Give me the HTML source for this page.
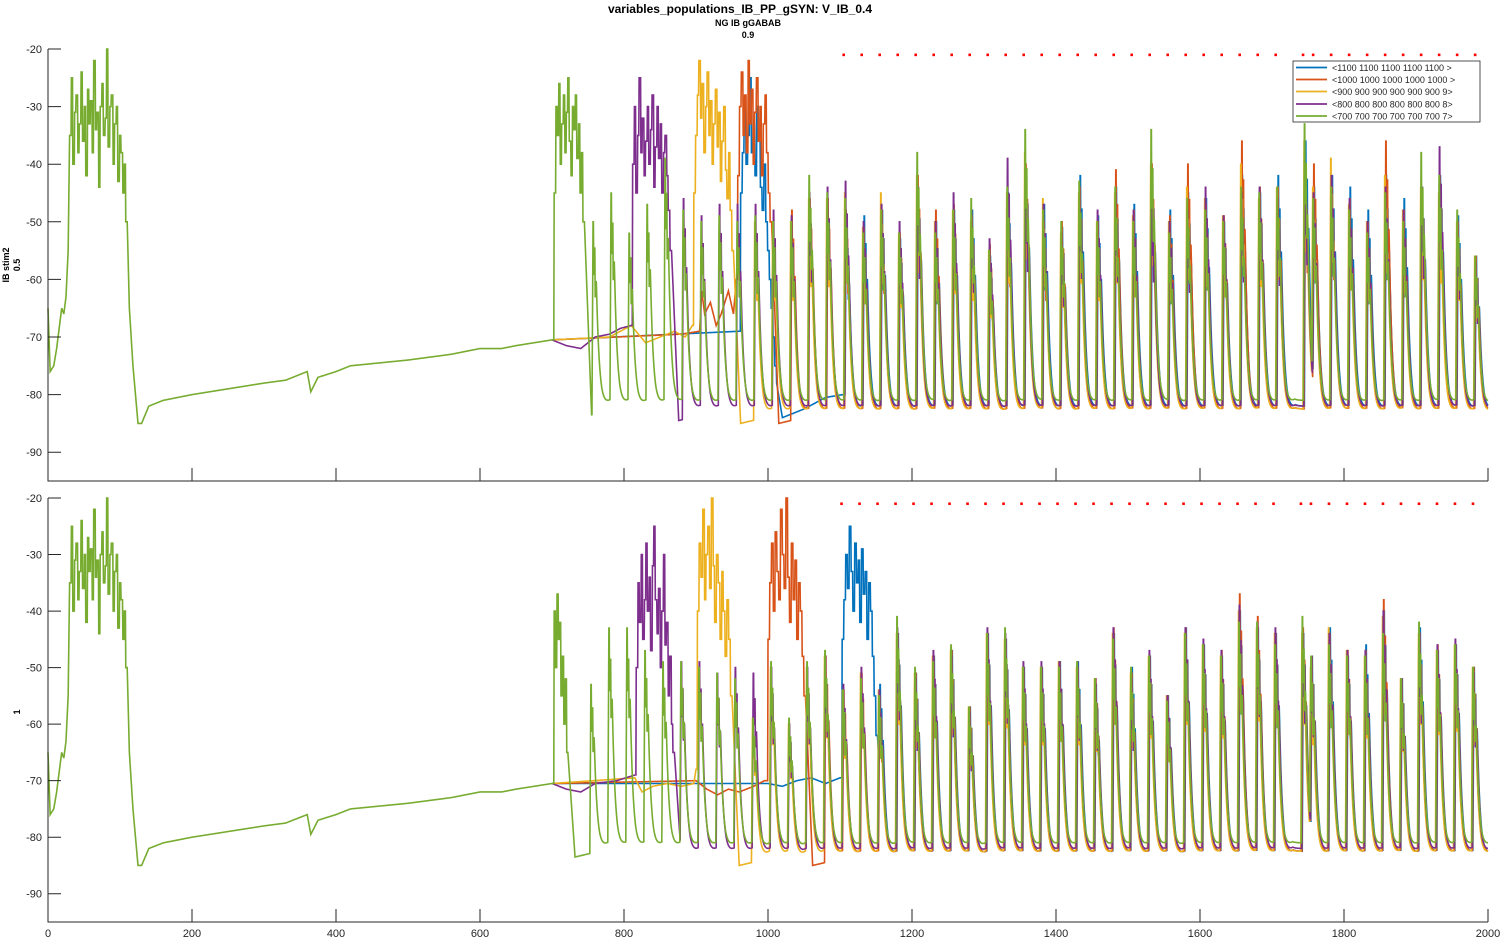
<!DOCTYPE html>
<html><head><meta charset="utf-8"><style>
body{margin:0;background:#fff;}
svg{display:block;font-family:"Liberation Sans",sans-serif;}
</style></head><body>
<svg id="chart" width="1500" height="938" viewBox="0 0 1500 938">
<text x="740" y="13" text-anchor="middle" font-size="12" font-weight="bold" fill="#000">variables_populations_IB_PP_gSYN: V_IB_0.4</text>
<text x="748" y="26" text-anchor="middle" font-size="9" font-weight="bold" fill="#000">NG IB gGABAB</text>
<text x="748" y="38" text-anchor="middle" font-size="9" font-weight="bold" fill="#000">0.9</text>
<text transform="translate(9,265) rotate(-90)" text-anchor="middle" font-size="9" font-weight="bold">IB stim2</text>
<text transform="translate(20,265) rotate(-90)" text-anchor="middle" font-size="9" font-weight="bold">0.5</text>
<text transform="translate(20,712) rotate(-90)" text-anchor="middle" font-size="9" font-weight="bold">1</text>
<g id="plots"></g>
<g>
<rect x="1293" y="61" width="187" height="61" fill="#fff" stroke="#262626" stroke-width="0.8"/>
<line x1="1296" y1="67.5" x2="1327" y2="67.5" stroke="#0072BD" stroke-width="1.8"/><text x="1332" y="71" font-size="9" fill="#262626">&lt;1100 1100 1100 1100 1100 &gt;</text>
<line x1="1296" y1="79.5" x2="1327" y2="79.5" stroke="#D95319" stroke-width="1.8"/><text x="1332" y="83" font-size="9" fill="#262626">&lt;1000 1000 1000 1000 1000 &gt;</text>
<line x1="1296" y1="91.5" x2="1327" y2="91.5" stroke="#EDB120" stroke-width="1.8"/><text x="1332" y="95" font-size="9" fill="#262626">&lt;900 900 900 900 900 900 9&gt;</text>
<line x1="1296" y1="104" x2="1327" y2="104" stroke="#7E2F8E" stroke-width="1.8"/><text x="1332" y="107.5" font-size="9" fill="#262626">&lt;800 800 800 800 800 800 8&gt;</text>
<line x1="1296" y1="116" x2="1327" y2="116" stroke="#77AC30" stroke-width="1.8"/><text x="1332" y="119.5" font-size="9" fill="#262626">&lt;700 700 700 700 700 700 7&gt;</text>
</g>
</svg>
<script>
const xTicks = [0,200,400,600,800,1000,1200,1400,1600,1800,2000];
const yTicks = [-20,-30,-40,-50,-60,-70,-80,-90];
const spikeTimes = [757,782,807,832,857,882,907,932,957,982,1007,1032,1057,1082,1107,1132,1157,1182,1207,1232,1257,1282,1307,1332,1357,1382,1407,1432,1457,1482,1507,1532,1557,1582,1607,1632,1657,1682,1707,1745,1757,1782,1807,1832,1857,1882,1907,1932,1957,1982];
const stimTimes = [1105,1130,1155,1180,1205,1230,1255,1280,1305,1330,1355,1380,1405,1430,1455,1480,1505,1530,1555,1580,1605,1630,1655,1680,1705,1743,1757,1782,1807,1832,1857,1882,1907,1932,1957,1982];
const stimLevel = -21;
const commonPoints = [[0,-65],[3,-76],[8,-75],[12,-72],[16,-68],[19,-65],[22,-66],[25,-63],[28,-55],[30,-35]];
const commonBurst = [-35,-25,-40,-31,-28,-38,-33,-24,-36,-30,-42,-27,-33,-29,-38,-22,-34,-31,-44,-30,-26,-35,-32,-20,-37,-30,-28,-40,-33,-30,-43,-35,-38,-45,-40];
const commonTail = [[110,-50],[113,-65],[118,-75],[125,-85],[130,-85],[140,-82],[150,-81.5],[160,-81],[180,-80.5],[200,-80],[225,-79.5],[250,-79],[275,-78.5],[300,-78],[330,-77.5],[350,-76.5],[360,-76],[365,-79.5],[375,-77],[400,-76],[420,-75],[460,-74.5],[500,-74],[530,-73.5],[560,-73],[600,-72],[630,-72],[650,-71.5],[700,-70.5]];

// top panel
const topGreenPre = [[700,-70.5]];
const topGreenBurst = [-45,-30,-35,-26,-40,-33,-28,-38,-31,-25,-36,-42,-30,-34,-28,-39,-33,-45,-38,-50];
const topGreenPeaks = [-50,-45,-52,-47,-39,-48,-50,-49,-50,-49,-50,-50,-42,-45,-46,-52,-48,-52,-38,-52,-48,-46,-55,-44,-34,-48,-50,-43,-50,-44,-50,-34,-52,-46,-48,-50,-44,-45,-44,-33,-46,-44,-48,-52,-45,-50,-38,-42,-48,-56];
const topPurplePre = [[700,-70.5],[720,-71.5],[740,-72],[760,-70],[780,-69.5],[795,-68.5],[810,-68]];
const topPurpleBurst = [-40,-30,-45,-35,-25,-38,-32,-42,-36,-30,-40,-34,-28,-44,-37,-30,-39,-33,-45,-38,-35,-42,-48,-55];
const topPurplePeaks = [null,null,null,null,null,-46,-49,-47,-47,-47,-48,-49,-45,-44,-43,-50,-47,-50,-44,-50,-45,-48,-53,-39,-42,-47,-52,-44,-48,-45,-48,-45,-50,-48,-44,-49,-45,-44,-46,-40,-45,-42,-46,-50,-44,-48,-44,-37,-50,-57];
const topYellowPre = [[700,-70.5],[780,-70],[810,-68],[830,-71],[850,-70],[870,-69],[885,-70],[895,-68]];
const topYellowBurst = [-45,-35,-28,-22,-32,-26,-38,-30,-24,-35,-29,-40,-33,-27,-37,-31,-43,-36,-30,-41,-46,-38,-48,-55];
const topYellowPeaks = [null,null,null,null,null,null,null,null,null,-50,-50,-50,-46,-46,-45,-51,-45,-52,-42,-50,-48,-50,-55,-45,-38,-46,-52,-45,-50,-45,-49,-40,-50,-44,-46,-49,-40,-46,-44,-36,-44,-39,-47,-50,-42,-48,-44,-45,-50,-56];
const topOrangePre = [[700,-70.5],[880,-69.5],[905,-69],[908,-62],[912,-66],[920,-64],[928,-68],[935,-66],[945,-62],[952,-66],[956,-60]];
const topOrangeBurst = [-42,-30,-24,-35,-28,-38,-22,-33,-27,-40,-31,-25,-36,-30,-42,-33,-28,-38,-45,-50];
const topOrangePeaks = [null,null,null,null,null,null,null,null,null,null,null,-48,-46,-46,-48,-51,-48,-52,-42,-48,-47,-49,-54,-46,-40,-50,-50,-44,-50,-41,-48,-40,-49,-40,-47,-49,-36,-44,-44,-42,-40,-44,-46,-50,-36,-48,-44,-42,-50,-56];
const topBluePre = [[700,-70.5],[960,-69]];
const topBlueBurst = [-45,-38,-30,-40,-35,-25,-38,-33,-42,-30,-36,-44,-48,-40,-50,-55,-60,-65,-70,-75];
const topBluePost = [[1012,-78],[1020,-84],[1050,-82.5],[1080,-80.5],[1104,-80]];
const topBluePeaks = [null,null,null,null,null,null,null,null,null,null,null,null,null,null,-50,-49,-48,-53,-44,-50,-48,-48,-56,-45,-41,-47,-51,-42,-49,-44,-47,-42,-48,-45,-46,-50,-42,-45,-42,-36,-44,-42,-44,-48,-42,-46,-44,-42,-49,-56];

// bottom panel
const botGreenPre = [[700,-70.5]];
const botGreenBurst = [-40,-50,-37,-45,-42,-55,-48,-60,-52,-65];
const botGreenPeaks = [-53,-43,-43,-47,-49,-49,-50,-51,-52,-59,-49,-59,-49,-47,-54,-52,-55,-41,-50,-49,-46,-57,-44,-43,-50,-50,-50,-49,-52,-45,-50,-48,-56,-44,-46,-48,-42,-42,-46,-41,-48,-46,-48,-48,-44,-52,-42,-47,-46,-50];
const botPurplePre = [[700,-70.5],[720,-71.5],[740,-72],[760,-70.5],[790,-70],[815,-69]];
const botPurpleBurst = [-50,-35,-42,-30,-45,-38,-28,-40,-34,-47,-32,-25,-38,-44,-36,-50,-40,-30,-46,-42,-55,-48,-60,-65];
const botPurplePeaks = [null,null,null,null,null,-49,-49,-51,-50,-51,-50,-60,-50,-48,-53,-50,-54,-43,-52,-47,-48,-58,-43,-44,-49,-49,-49,-49,-52,-43,-52,-47,-55,-43,-45,-47,-39,-42,-43,-44,-48,-44,-47,-47,-40,-52,-44,-46,-45,-51];
const botYellowPre = [[700,-70.5],[815,-69.5],[825,-72],[840,-71],[860,-70.5],[880,-71],[897,-70.5],[900,-68]];
const botYellowBurst = [-40,-28,-34,-22,-38,-30,-25,-36,-20,-32,-42,-30,-35,-45,-33,-40,-48,-38,-45,-55];
const botYellowPeaks = [null,null,null,null,null,null,null,null,null,-59,-50,-60,-50,-48,-54,-51,-54,-44,-51,-48,-47,-57,-44,-45,-50,-50,-49,-50,-52,-44,-51,-48,-55,-44,-46,-48,-40,-43,-44,-44,-50,-43,-47,-48,-41,-52,-44,-47,-46,-50];
const botOrangePre = [[700,-70.5],[900,-70],[915,-71.5],[930,-72.5],[945,-71.5],[960,-72],[980,-71],[995,-70]];
const botOrangeBurst = [-45,-35,-28,-40,-26,-33,-38,-22,-30,-36,-20,-34,-42,-28,-38,-31,-45,-35,-40,-48,-55];
const botOrangePeaks = [null,null,null,null,null,null,null,null,null,null,null,null,null,-48,-54,-51,-55,-44,-51,-48,-47,-57,-44,-45,-50,-50,-49,-50,-52,-43,-51,-48,-55,-43,-46,-47,-37,-41,-44,-43,-48,-44,-47,-47,-38,-52,-44,-46,-46,-50];
const botBluePre = [[700,-70.5],[1000,-70.5],[1020,-71],[1040,-70],[1060,-69.5],[1080,-70.5],[1100,-69.5]];
const botBlueBurst = [-45,-38,-30,-36,-25,-33,-40,-28,-35,-31,-42,-29,-37,-33,-45,-35,-40,-48,-55,-62];
const botBluePeaks = [null,null,null,null,null,null,null,null,null,null,null,null,null,null,null,null,-53,-44,-51,-48,-47,-57,-44,-45,-50,-50,-49,-49,-53,-44,-50,-48,-55,-43,-46,-48,-40,-43,-44,-44,-48,-43,-48,-46,-40,-52,-43,-47,-46,-50];

const panels = [
 {name:'top', y0:49, y1:481, shift:0, series:[
  {name:'blue',color:'#0072BD',lag:1.5,trough:-83.5,pre:topBluePre,bs:962,be:1012,burst:topBlueBurst,post:topBluePost,peaks:topBluePeaks},
  {name:'orange',color:'#D95319',lag:1,trough:-84,pre:topOrangePre,bs:958,be:1005,burst:topOrangeBurst,post:[],peaks:topOrangePeaks},
  {name:'yellow',color:'#EDB120',lag:-0.5,trough:-84,pre:topYellowPre,bs:897,be:952,burst:topYellowBurst,post:[],peaks:topYellowPeaks},
  {name:'purple',color:'#7E2F8E',lag:0.5,trough:-83.5,pre:topPurplePre,bs:812,be:866,burst:topPurpleBurst,post:[],peaks:topPurplePeaks},
  {name:'green',color:'#77AC30',lag:0,trough:-82.5,pre:topGreenPre,bs:703,be:745,burst:topGreenBurst,post:[],peaks:topGreenPeaks,common:true}]},
 {name:'bottom', y0:498, y1:922, shift:-3, series:[
  {name:'blue',color:'#0072BD',lag:1.5,trough:-84,pre:botBluePre,bs:1103,be:1152,burst:botBlueBurst,post:[],peaks:botBluePeaks},
  {name:'orange',color:'#D95319',lag:1,trough:-84,pre:botOrangePre,bs:1000,be:1052,burst:botOrangeBurst,post:[],peaks:botOrangePeaks},
  {name:'yellow',color:'#EDB120',lag:-0.5,trough:-84,pre:botYellowPre,bs:902,be:950,burst:botYellowBurst,post:[],peaks:botYellowPeaks},
  {name:'purple',color:'#7E2F8E',lag:0.5,trough:-83.5,pre:botPurplePre,bs:817,be:870,burst:botPurpleBurst,post:[],peaks:botPurplePeaks},
  {name:'green',color:'#77AC30',lag:0,trough:-82.5,pre:botGreenPre,bs:703,be:722,burst:botGreenBurst,post:[],peaks:botGreenPeaks,common:true}]}
];

const NS='http://www.w3.org/2000/svg';
const X0=48, X1=1488;
const xs = t => X0 + (t/2000)*(X1-X0);
function interp(pts,t){
  if(t<=pts[0][0]) return pts[0][1];
  for(let i=1;i<pts.length;i++){ if(t<=pts[i][0]){const a=pts[i-1],b=pts[i];return a[1]+(b[1]-a[1])*(t-a[0])/(b[0]-a[0]);} }
  return pts[pts.length-1][1];
}
function commonV(t){
  if(t<30) return interp(commonPoints,t);
  if(t<108){const i=Math.min(commonBurst.length-1,Math.floor((t-30)/78*commonBurst.length));return commonBurst[i];}
  return interp(commonTail,t);
}
function shape(d){
  if(d<1) return 1;
  if(d<2) return 0.72;
  if(d<3) return 0.86;
  if(d<4) return 0.6;
  if(d<5) return 0.68;
  return 0.62*Math.exp(-(d-5)/4.2);
}
function seriesV(s,t,shift){
  if(t<=700) return commonV(t);
  if(t<s.bs) return interp(s.pre,t);
  if(t<s.be){const i=Math.min(s.burst.length-1,Math.floor((t-s.bs)/(s.be-s.bs)*s.burst.length));return s.burst[i];}
  let last=-1,next=-1;
  for(let i=0;i<spikeTimes.length;i++){
    if(s.peaks[i]==null) continue;
    const ti=spikeTimes[i]+shift+s.lag;
    if(ti<s.be+3) continue;
    if(ti<=t) last=i; else {next=i;break;}
  }
  const T=s.trough;
  const base = (tt)=>{
    if(last<0){
      if(s.post.length) return interp(s.post,tt);
      const d=tt-s.be; const lb=s.burst[s.burst.length-1];
      if(d<10) return lb+(T-1-lb)*d/10;
      return Math.min(T+1.5,T-1+0.03*(d-10));
    }
    const ti=spikeTimes[last]+shift+s.lag, p=s.peaks[last], d=tt-ti;
    return T+(p-T)*shape(d)+Math.max(0,Math.min(1.5,0.12*(d-12)));
  };
  if(next>=0){
    const tn=spikeTimes[next]+shift+s.lag;
    if(t>tn-1.5){const b=base(tn-1.5);return b+(s.peaks[next]-b)*(t-(tn-1.5))/1.5;}
  }
  return base(t);
}
const plots=document.getElementById('plots');
panels.forEach(P=>{
  const ys = v => P.y0 + (-20-v)/75*(P.y1-P.y0);
  const g=document.createElementNS(NS,'g');
  
  
  plots.appendChild(g);
  P.series.forEach(s=>{
    const t0 = s.common?0:700;
    let d='';
    for(let t=t0;t<=2000;t+=0.5){
      const v=seriesV(s,t,P.shift);
      d+=(d?'L':'M')+xs(t).toFixed(2)+' '+ys(v).toFixed(2);
    }
    const path=document.createElementNS(NS,'path');
    path.setAttribute('d',d);
    path.setAttribute('fill','none');
    path.setAttribute('stroke',s.color);
    path.setAttribute('stroke-width','1.6');
    path.setAttribute('stroke-linejoin','miter');
    
    
    g.appendChild(path);
  });
  stimTimes.forEach(tt=>{
    const c=document.createElementNS(NS,'rect');
    c.setAttribute('x',(xs(tt+P.shift)-1.2).toFixed(2));
    c.setAttribute('y',(ys(stimLevel)-1.2).toFixed(2));
    c.setAttribute('width','2.6');c.setAttribute('height','2.6');
    c.setAttribute('fill','#ff0000');
    
    
    g.appendChild(c);
  });
  const ax=document.createElementNS(NS,'path');
  let ad='M'+X0+' '+P.y0+'V'+P.y1+'H'+X1;
  yTicks.forEach(v=>{ad+='M'+X0+' '+ys(v)+'h13';});
  xTicks.forEach(t=>{ad+='M'+xs(t)+' '+P.y1+'v-13';});
  ax.setAttribute('d',ad);ax.setAttribute('stroke','#262626');ax.setAttribute('fill','none');ax.setAttribute('stroke-width','1');
  
  
  g.appendChild(ax);
  yTicks.forEach(v=>{
    const tx=document.createElementNS(NS,'text');
    tx.setAttribute('x','42');tx.setAttribute('y',(ys(v)+4).toFixed(1));
    tx.setAttribute('text-anchor','end');tx.setAttribute('font-size','11');tx.setAttribute('fill','#262626');
    tx.textContent=String(v);
    
    
    g.appendChild(tx);
  });
  if(P.name==='bottom'){
    xTicks.forEach(t=>{
      const tx=document.createElementNS(NS,'text');
      tx.setAttribute('x',xs(t).toFixed(1));tx.setAttribute('y','937');
      tx.setAttribute('text-anchor','middle');tx.setAttribute('font-size','11');tx.setAttribute('fill','#262626');
      tx.textContent=String(t);
      
      
      g.appendChild(tx);
    });
  }
});
</script>
</body></html>
